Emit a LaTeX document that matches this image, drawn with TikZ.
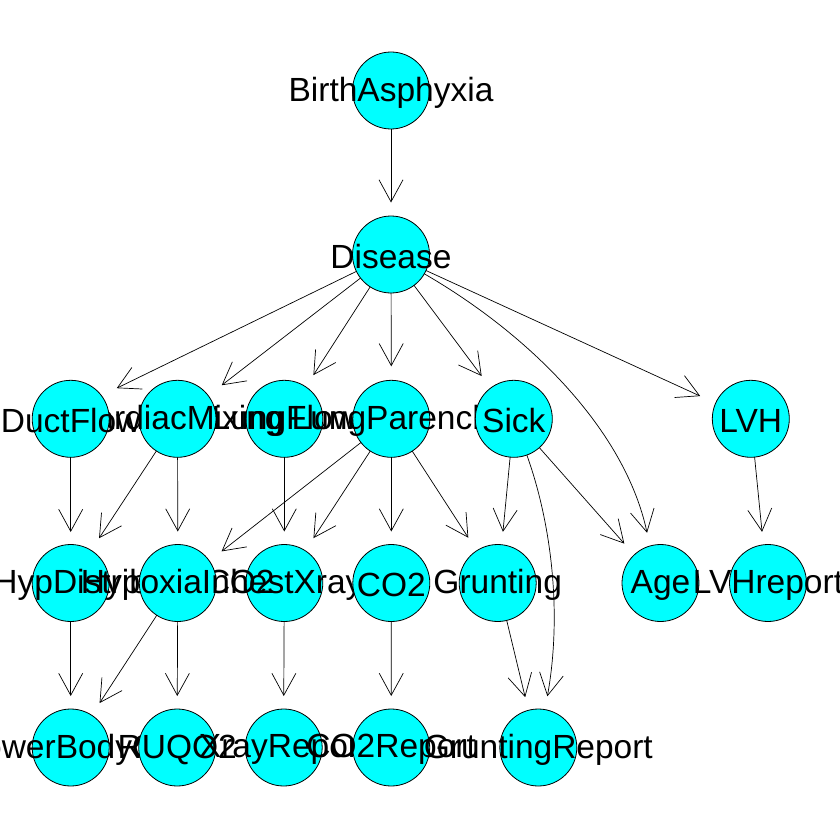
\documentclass[tikz,border=0pt]{standalone}
\usepackage{fontspec}
\setmainfont{Liberation Sans}
\usetikzlibrary{arrows.meta}
\definecolor{nodecyan}{RGB}{0,255,255}

\begin{document}
\begin{tikzpicture}[x=1pt, y=-1pt,
    bnnode/.style={circle, draw=black, line width=0.8pt, fill=nodecyan, minimum size=77pt, inner sep=0pt, outer sep=0pt},
    bnlabel/.style={inner sep=0pt, font=\fontsize{33.5}{36}\selectfont},
    bnedge/.style={draw=black, line width=0.7pt, arrows={-Straight Barb[length=22pt, width=24pt]}}]
  \useasboundingbox (0,0) rectangle (840,840);
  \clip (0,0) rectangle (840,840);

  % nodes, row by row
  \foreach \n/\x/\y in {BirthAsphyxia/391/90.5, Disease/391/254.5,
      LungFlow/284.3/418.8, CardiacMixing/177.5/418.8, DuctFlow/70.7/418.8,
      LungParench/391.3/418.8, Sick/513.8/418.8, LVH/750.8/418.8,
      HypDistrib/70.7/583, ChestXray/284.3/583, HypoxiaInO2/177.8/583,
      CO2/391.3/583, Grunting/497.7/583, Age/660.5/583, LVHreport/768/583,
      LowerBodyO2/70.7/747.5, RUQO2/177.2/747.5, XrayReport/283.7/747.5,
      CO2Report/391.2/747.5, GruntingReport/538.3/747.5}
  {
    \node[bnnode] (\n) at (\x,\y) {};
    \node[bnlabel] at ([yshift=-2pt]\n) {\n};
  }

  % arcs
  \foreach \a/\b/\g in {BirthAsphyxia/Disease.north/13.5,
      Disease/DuctFlow.37/17, Disease/CardiacMixing.37/17, Disease/LungFlow.56/14,
      Disease/LungParench.north/14, Disease/Sick.127/15, Disease/LVH.156/17,
      DuctFlow/HypDistrib.north/12.5, CardiacMixing/HypDistrib.58/14.5,
      CardiacMixing/HypoxiaInO2.north/13, LungFlow/ChestXray.north/13,
      LungParench/HypoxiaInO2.35/15.5, LungParench/ChestXray.57/15,
      LungParench/CO2.north/13, LungParench/Grunting.123/15.5,
      Sick/Grunting.84/13, Sick/Age.133/15, LVH/LVHreport.97/13,
      HypDistrib/LowerBodyO2.north/13, HypoxiaInO2/LowerBodyO2.57/14.5,
      HypoxiaInO2/RUQO2.north/13, ChestXray/XrayReport.north/13,
      CO2/CO2Report.north/13, Grunting/GruntingReport.105/13.5}
  {
    \draw[bnedge, shorten >=\g pt] (\a) -- (\b);
  }
  \draw[bnedge, shorten >=13.5pt] (Disease) .. controls (530,335) and (625,430) .. (Age.106);
  \draw[bnedge, shorten >=13.5pt] (Sick) .. controls (552,525) and (562,615) .. (GruntingReport.80);
\end{tikzpicture}
\end{document}
